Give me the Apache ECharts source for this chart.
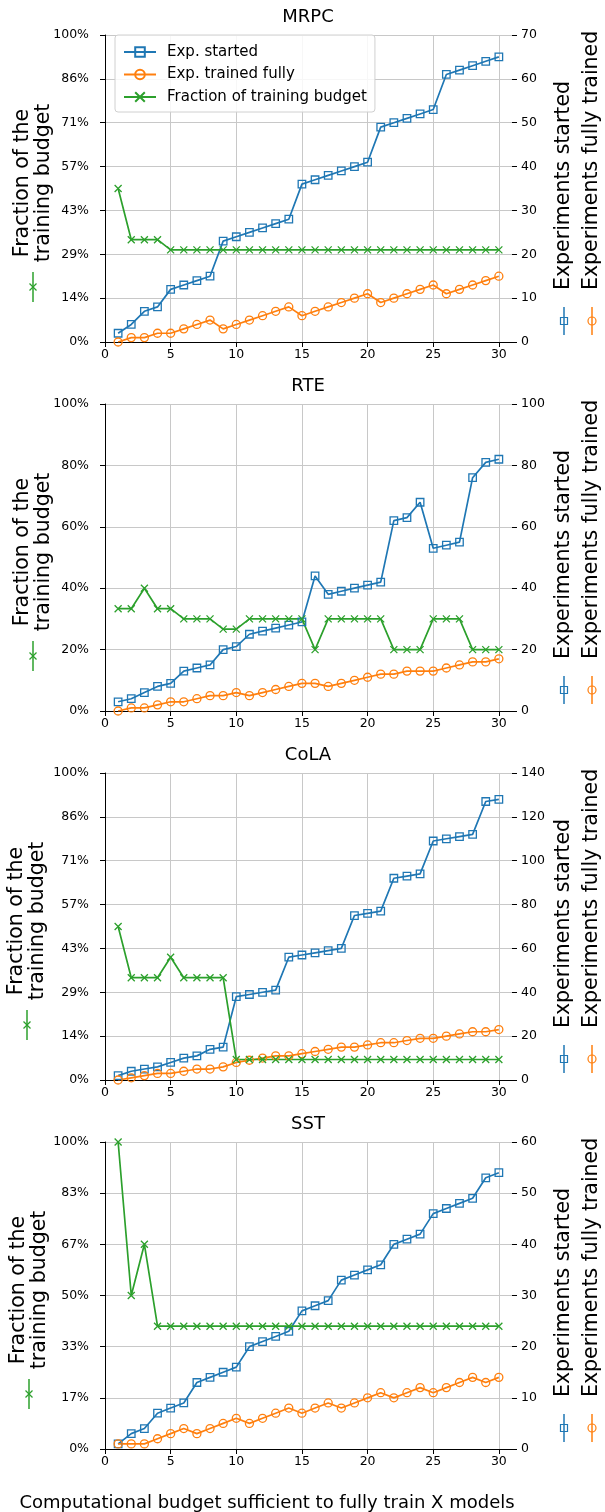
<!DOCTYPE html>
<html>
<head>
<meta charset="utf-8">
<script src="https://cdn.jsdelivr.net/npm/echarts@6/dist/echarts.min.js"></script>
<style>
  html, body { margin: 0; padding: 0; background: #fff; }
  #chart { width: 605px; height: 1512px; }
</style>
</head>
<body>
<div id="chart"></div>
<script>
// budgets on the x axis
const budgets = [1, 2, 3, 4, 5, 6, 7, 8, 9, 10, 11, 12, 13, 14, 15, 16, 17, 18, 19, 20, 21, 22, 23, 24, 25, 26, 27, 28, 29, 30];
const xTicks = [0, 5, 10, 15, 20, 25, 30];

// MRPC
const mrpcStarted = [2, 4, 7, 8, 12, 13, 14, 15, 23, 24, 25, 26, 27, 28, 36, 37, 38, 39, 40, 41, 49, 50, 51, 52, 53, 61, 62, 63, 64, 65];
const mrpcTrained = [0, 1, 1, 2, 2, 3, 4, 5, 3, 4, 5, 6, 7, 8, 6, 7, 8, 9, 10, 11, 9, 10, 11, 12, 13, 11, 12, 13, 14, 15];
const mrpcFraction = [0.5, 0.3333, 0.3333, 0.3333, 0.3, 0.3, 0.3, 0.3, 0.3, 0.3, 0.3, 0.3, 0.3, 0.3, 0.3, 0.3, 0.3, 0.3, 0.3, 0.3, 0.3, 0.3, 0.3, 0.3, 0.3, 0.3, 0.3, 0.3, 0.3, 0.3];
const mrpcFracTicks = [0, 0.142857, 0.285714, 0.428571, 0.571429, 0.714286, 0.857143, 1];

// RTE
const rteStarted = [3, 4, 6, 8, 9, 13, 14, 15, 20, 21, 25, 26, 27, 28, 29, 44, 38, 39, 40, 41, 42, 62, 63, 68, 53, 54, 55, 76, 81, 82];
const rteTrained = [0, 1, 1, 2, 3, 3, 4, 5, 5, 6, 5, 6, 7, 8, 9, 9, 8, 9, 10, 11, 12, 12, 13, 13, 13, 14, 15, 16, 16, 17];
const rteFraction = [0.3333, 0.3333, 0.4, 0.3333, 0.3333, 0.3, 0.3, 0.3, 0.2667, 0.2667, 0.3, 0.3, 0.3, 0.3, 0.3, 0.2, 0.3, 0.3, 0.3, 0.3, 0.3, 0.2, 0.2, 0.2, 0.3, 0.3, 0.3, 0.2, 0.2, 0.2];
const rteFracTicks = [0, 0.2, 0.4, 0.6, 0.8, 1];

// CoLA
const colaStarted = [2, 4, 5, 6, 8, 10, 11, 14, 15, 38, 39, 40, 41, 56, 57, 58, 59, 60, 75, 76, 77, 92, 93, 94, 109, 110, 111, 112, 127, 128];
const colaTrained = [0, 1, 2, 3, 3, 4, 5, 5, 6, 8, 9, 10, 11, 11, 12, 13, 14, 15, 15, 16, 17, 17, 18, 19, 19, 20, 21, 22, 22, 23];
const colaFraction = [0.5, 0.3333, 0.3333, 0.3333, 0.4, 0.3333, 0.3333, 0.3333, 0.3333, 0.0667, 0.0667, 0.0667, 0.0667, 0.0667, 0.0667, 0.0667, 0.0667, 0.0667, 0.0667, 0.0667, 0.0667, 0.0667, 0.0667, 0.0667, 0.0667, 0.0667, 0.0667, 0.0667, 0.0667, 0.0667];
const colaFracTicks = [0, 0.142857, 0.285714, 0.428571, 0.571429, 0.714286, 0.857143, 1];

// SST
const sstStarted = [1, 3, 4, 7, 8, 9, 13, 14, 15, 16, 20, 21, 22, 23, 27, 28, 29, 33, 34, 35, 36, 40, 41, 42, 46, 47, 48, 49, 53, 54];
const sstTrained = [1, 1, 1, 2, 3, 4, 3, 4, 5, 6, 5, 6, 7, 8, 7, 8, 9, 8, 9, 10, 11, 10, 11, 12, 11, 12, 13, 14, 13, 14];
const sstFraction = [1, 0.5, 0.6667, 0.4, 0.4, 0.4, 0.4, 0.4, 0.4, 0.4, 0.4, 0.4, 0.4, 0.4, 0.4, 0.4, 0.4, 0.4, 0.4, 0.4, 0.4, 0.4, 0.4, 0.4, 0.4, 0.4, 0.4, 0.4, 0.4, 0.4];
const sstFracTicks = [0, 0.166667, 0.333333, 0.5, 0.666667, 0.833333, 1];

const panels = [
    { title: 'MRPC', started: mrpcStarted, trained: mrpcTrained, fraction: mrpcFraction, fracTicks: mrpcFracTicks, countMax: 70, countStep: 10 },
    { title: 'RTE', started: rteStarted, trained: rteTrained, fraction: rteFraction, fracTicks: rteFracTicks, countMax: 100, countStep: 20 },
    { title: 'CoLA', started: colaStarted, trained: colaTrained, fraction: colaFraction, fracTicks: colaFracTicks, countMax: 140, countStep: 20 },
    { title: 'SST', started: sstStarted, trained: sstTrained, fraction: sstFraction, fracTicks: sstFracTicks, countMax: 60, countStep: 10 }
];

const BLUE = '#1f77b4', ORANGE = '#ff7f0e', GREEN = '#2ca02c';
const FONT = 'DejaVu Sans';
const tops = [35, 404, 773, 1142];
const leftLabelX = [33, 33, 27, 29];
const PLOT_H = 307;
const CROSS = 'path://M0,0L10,10M10,0L0,10';

const chart = echarts.init(document.getElementById('chart'));

const grids = [], xAxes = [], yAxes = [], series = [], titles = [], graphics = [];

panels.forEach(function (p, i) {
    const t = tops[i];
    grids.push({ left: 105, width: 407, top: t, height: PLOT_H });
    titles.push({
        text: p.title, left: 308, top: t - 27, textAlign: 'center', padding: 0,
        textStyle: { fontFamily: FONT, fontSize: 18, fontWeight: 'normal', color: '#000' }
    });
    xAxes.push({
        type: 'value', gridIndex: i, min: 0, max: 31,
        axisLine: { show: true, onZero: false, lineStyle: { color: '#000', width: 1 } },
        axisTick: { show: true, length: 5, customValues: xTicks, lineStyle: { color: '#000' } },
        axisLabel: { customValues: xTicks, color: '#000', fontFamily: FONT, fontSize: 12.5, margin: 6 },
        splitLine: { show: true, lineStyle: { color: '#c8c8c8', width: 1 } }
    });
    // left: fraction of the training budget
    yAxes.push({
        type: 'value', gridIndex: i, position: 'left', min: 0, max: 1,
        axisLine: { show: true, lineStyle: { color: '#000', width: 1 } },
        axisTick: { show: true, length: 5, customValues: p.fracTicks, lineStyle: { color: '#000' } },
        axisLabel: {
            customValues: p.fracTicks, color: '#000', fontFamily: FONT, fontSize: 12.5, margin: 16,
            formatter: function (v) { return Math.round(v * 100) + '%'; }
        },
        splitLine: { show: false }
    });
    // right: experiment counts
    yAxes.push({
        type: 'value', gridIndex: i, position: 'right', min: 0, max: p.countMax, interval: p.countStep,
        axisLine: { show: false },
        axisTick: { show: true, length: 5, lineStyle: { color: '#000' } },
        axisLabel: { color: '#000', fontFamily: FONT, fontSize: 12.5, margin: 9 },
        splitLine: { show: true, lineStyle: { color: '#c8c8c8', width: 1 } }
    });

    series.push({
        type: 'line', name: 'Exp. started', xAxisIndex: i, yAxisIndex: 2 * i + 1,
        data: budgets.map(function (b, k) { return [b, p.started[k]]; }),
        symbol: 'rect', symbolSize: 7.5,
        lineStyle: { color: BLUE, width: 1.7 },
        itemStyle: { color: 'rgba(255,255,255,0)', borderColor: BLUE, borderWidth: 1.3 }
    });
    series.push({
        type: 'line', name: 'Exp. trained fully', xAxisIndex: i, yAxisIndex: 2 * i + 1,
        data: budgets.map(function (b, k) { return [b, p.trained[k]]; }),
        symbol: 'circle', symbolSize: 8,
        lineStyle: { color: ORANGE, width: 1.7 },
        itemStyle: { color: 'rgba(255,255,255,0)', borderColor: ORANGE, borderWidth: 1.3 }
    });
    series.push({
        type: 'line', name: 'Fraction of training budget', xAxisIndex: i, yAxisIndex: 2 * i,
        data: budgets.map(function (b, k) { return [b, p.fraction[k]]; }),
        symbol: CROSS, symbolSize: 7,
        lineStyle: { color: GREEN, width: 1.7 },
        itemStyle: { color: 'rgba(255,255,255,0)', borderColor: GREEN, borderWidth: 1.3 }
    });

    // axis titles with their little key marks
    const lx = leftLabelX[i];
    graphics.push({
        type: 'text', x: lx, y: t + 148, rotation: Math.PI / 2,
        style: { text: 'Fraction of the\ntraining budget', fontFamily: FONT, fontSize: 20.5, lineHeight: 21,
                 fill: '#000', align: 'center', verticalAlign: 'middle' }
    });
    graphics.push({ type: 'line', shape: { x1: lx, y1: t + 237, x2: lx, y2: t + 267 }, style: { stroke: GREEN, lineWidth: 1.5 } });
    graphics.push({ type: 'line', shape: { x1: lx - 3.5, y1: t + 248.5, x2: lx + 3.5, y2: t + 255.5 }, style: { stroke: GREEN, lineWidth: 1.2 } });
    graphics.push({ type: 'line', shape: { x1: lx + 3.5, y1: t + 248.5, x2: lx - 3.5, y2: t + 255.5 }, style: { stroke: GREEN, lineWidth: 1.2 } });

    graphics.push({
        type: 'text', x: 564, y: t + 255, rotation: Math.PI / 2,
        style: { text: 'Experiments started', fontFamily: FONT, fontSize: 20.5, fill: '#000', align: 'left', verticalAlign: 'middle' }
    });
    graphics.push({
        type: 'text', x: 592, y: t + 255, rotation: Math.PI / 2,
        style: { text: 'Experiments fully trained', fontFamily: FONT, fontSize: 20.5, fill: '#000', align: 'left', verticalAlign: 'middle' }
    });
    graphics.push({ type: 'line', shape: { x1: 564, y1: t + 272, x2: 564, y2: t + 300 }, style: { stroke: BLUE, lineWidth: 1.5 } });
    graphics.push({ type: 'rect', shape: { x: 560.5, y: t + 282.5, width: 7, height: 7 }, style: { fill: 'none', stroke: BLUE, lineWidth: 1.2 } });
    graphics.push({ type: 'line', shape: { x1: 592, y1: t + 272, x2: 592, y2: t + 300 }, style: { stroke: ORANGE, lineWidth: 1.5 } });
    graphics.push({ type: 'circle', shape: { cx: 592, cy: t + 286, r: 4 }, style: { fill: 'none', stroke: ORANGE, lineWidth: 1.2 } });
});

graphics.push({
    type: 'text', x: 267, y: 1503,
    style: { text: 'Computational budget sufficient to fully train X models', fontFamily: FONT, fontSize: 18,
             fill: '#000', align: 'center', verticalAlign: 'middle' }
});

const option = {
    animation: false,
    backgroundColor: '#fff',
    textStyle: { fontFamily: FONT },
    title: titles,
    legend: {
        orient: 'vertical', left: 115, top: 35,
        padding: [8, 8, 6, 8],
        itemWidth: 32, itemHeight: 12, itemGap: 4.5,
        backgroundColor: 'rgba(255,255,255,0.85)',
        borderColor: '#d0d0d0', borderWidth: 1, borderRadius: 3,
        textStyle: { fontFamily: FONT, fontSize: 15, color: '#000', lineHeight: 18, padding: [0, 0, 0, 6] },
        data: ['Exp. started', 'Exp. trained fully', 'Fraction of training budget']
    },
    grid: grids,
    xAxis: xAxes,
    yAxis: yAxes,
    series: series,
    graphic: graphics
};
chart.setOption(option);
</script>
</body>
</html>
